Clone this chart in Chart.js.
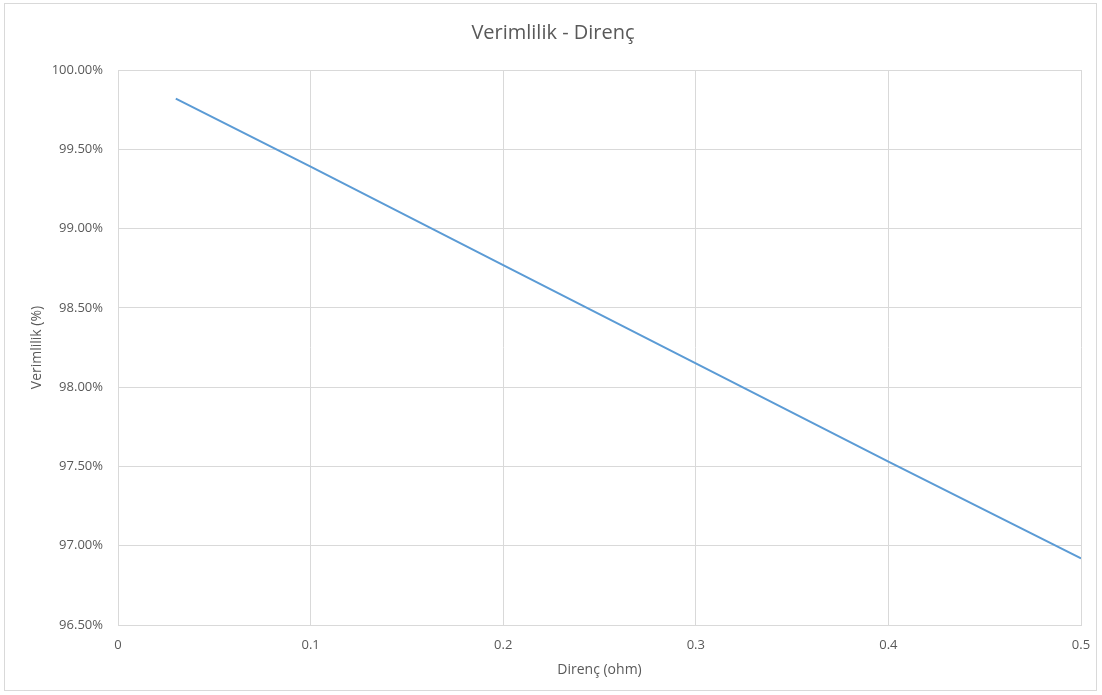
<!DOCTYPE html>
<html>
<head>
<meta charset="utf-8">
<script src="https://cdn.jsdelivr.net/npm/chart.js@4"></script>
<style>
  html, body { margin: 0; padding: 0; background: #ffffff; }
  #wrap { position: absolute; left: 4px; top: 3px; width: 1091px; height: 686px; border: 1px solid #d9d9d9; }
  #chart { position: absolute; left: 0; top: 0; }
</style>
</head>
<body>
<div id="wrap"><canvas id="chart" width="1091" height="686"></canvas></div>
<script>
// resistance (ohm) vs efficiency (%)
const resistance = [0.03, 0.1, 0.2, 0.3, 0.4, 0.5];
const efficiency = [99.82, 99.39, 98.77, 98.15, 97.53, 96.92];

const chartTitle = 'Verimlilik - Direnç';
const xTitle = 'Direnç (ohm)';
const yTitle = 'Verimlilik (%)';

const textColor = '#595959';
const gridColor = '#d9d9d9';
const fontFamily = '"Open Sans", "Noto Sans", sans-serif';

const points = resistance.map((r, i) => ({ x: r, y: efficiency[i] }));

new Chart(document.getElementById('chart'), {
    type: 'line',
    data: {
        datasets: [{
            data: points,
            borderColor: '#5b9bd5',
            borderWidth: 2,
            pointRadius: 0,
            tension: 0,
            fill: false
        }]
    },
    options: {
        responsive: false,
        animation: false,
        layout: { padding: { left: 20, right: 15, top: 4, bottom: 8 } },
        plugins: {
            legend: { display: false },
            tooltip: { enabled: false },
            title: {
                display: true,
                text: chartTitle,
                color: textColor,
                font: { family: fontFamily, size: 20, weight: 'normal' },
                padding: { top: 13, bottom: 25 }
            }
        },
        scales: {
            x: {
                type: 'linear',
                min: 0,
                max: 0.5,
                afterFit: s => {
                    s.height = 57;
                    s.paddingLeft = 0;
                    s.paddingRight = 0;
                },
                ticks: {
                    stepSize: 0.1,
                    color: textColor,
                    font: { family: fontFamily, size: 13 },
                    padding: 12,
                    callback: v => Number(v.toFixed(1)).toString()
                },
                grid: { color: gridColor, drawTicks: false },
                border: { color: gridColor },
                title: {
                    display: true,
                    text: xTitle,
                    color: textColor,
                    font: { family: fontFamily, size: 14 },
                    padding: { top: 4, bottom: 4 }
                }
            },
            y: {
                min: 96.5,
                max: 100,
                afterFit: s => { s.width = 93; },
                ticks: {
                    stepSize: 0.5,
                    color: textColor,
                    font: { family: fontFamily, size: 13 },
                    padding: 15,
                    callback: v => v.toFixed(2) + '%'
                },
                grid: { color: gridColor, drawTicks: false },
                border: { color: gridColor },
                title: {
                    display: true,
                    text: yTitle,
                    color: textColor,
                    font: { family: fontFamily, size: 14 },
                    padding: { top: 4, bottom: 4 }
                }
            }
        }
    }
});
</script>
</body>
</html>
